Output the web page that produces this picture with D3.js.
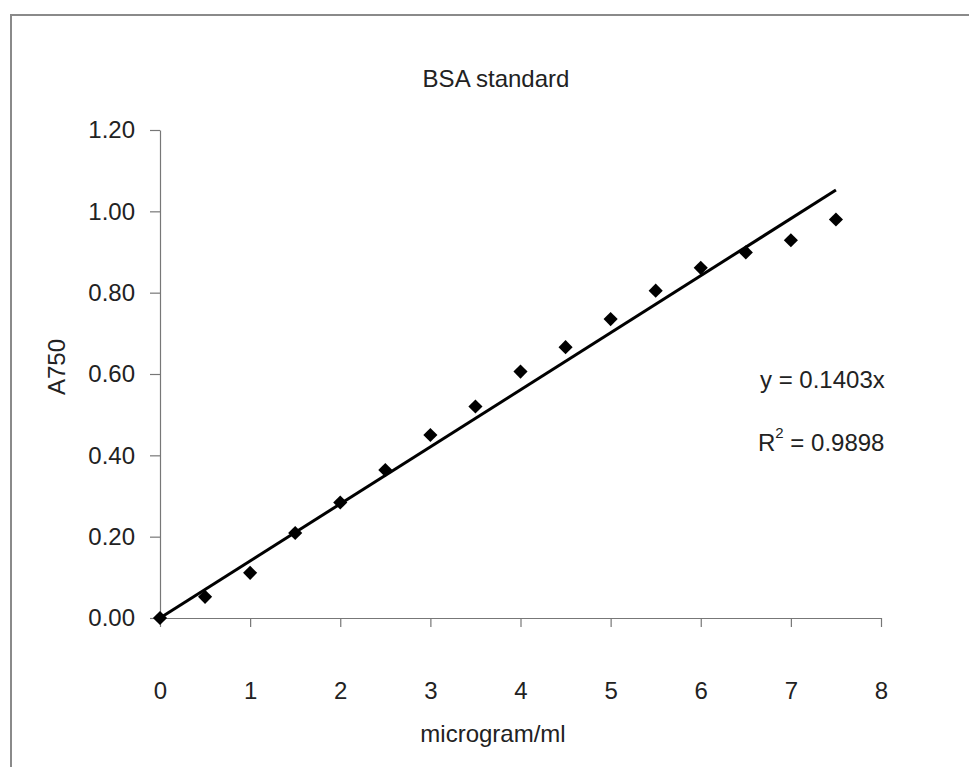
<!DOCTYPE html>
<html>
<head>
<meta charset="utf-8">
<script src="https://cdn.jsdelivr.net/npm/d3@7"></script>
<style>
  body { margin: 0; background: #fff; }
  svg text { font-family: "Liberation Sans", Arial, sans-serif; fill: #222; }
</style>
</head>
<body>
<svg></svg>
<script>
let concentrations = [0, 0.5, 1, 1.5, 2, 2.5, 3, 3.5, 4, 4.5, 5, 5.5, 6, 6.5, 7, 7.5]
let absorbances = [0, 0.052, 0.111, 0.209, 0.284, 0.364, 0.450, 0.520, 0.606, 0.666, 0.735, 0.805, 0.861, 0.899, 0.929, 0.980]
let xTicks = [0, 1, 2, 3, 4, 5, 6, 7, 8]
let yTicks = [0, 0.2, 0.4, 0.6, 0.8, 1.0, 1.2]
let trendSlope = 0.1403
let rSquared = 0.9898

let width = 969
let height = 767
let fontSize = 24

let svg = d3.select('svg')
    .attr('width', width)
    .attr('height', height)

// chart frame (only top and left edges are in the picture)
svg.append('path')
   .attr('d', 'M11,' + height + ' L11,15 L' + width + ',15')
   .attr('fill', 'none')
   .attr('stroke', '#8a8a8a')
   .attr('stroke-width', 2)

let xScale = d3.scaleLinear().domain([0, 8]).range([160, 881])
let yScale = d3.scaleLinear().domain([0, 1.2]).range([618, 130])

let xAxis = d3.axisBottom(xScale)
              .tickValues(xTicks)
              .tickFormat(d3.format('d'))
              .tickSizeInner(9)
              .tickSizeOuter(0)
              .tickPadding(55)
let yAxis = d3.axisLeft(yScale)
              .tickValues(yTicks)
              .tickFormat(d3.format('.2f'))
              .tickSizeInner(10)
              .tickSizeOuter(0)
              .tickPadding(15)

svg.append('g')
   .attr('transform', 'translate(0,' + yScale(0) + ')')
   .call(xAxis)
svg.append('g')
   .attr('transform', 'translate(' + xScale(0) + ',0)')
   .call(yAxis)

svg.selectAll('.domain, .tick line')
   .attr('stroke', '#777')
   .attr('stroke-width', 1.2)
svg.selectAll('.tick text')
   .attr('font-size', fontSize)
   .attr('fill', '#222')
   .style('font-family', '"Liberation Sans", Arial, sans-serif')

// trendline through origin
let lineEnds = [0, d3.max(concentrations)]
svg.append('path')
   .datum(lineEnds)
   .attr('d', d3.line().x(d => xScale(d)).y(d => yScale(trendSlope * d)))
   .attr('stroke', '#000')
   .attr('stroke-width', 3)
   .attr('fill', 'none')

// diamond markers
svg.selectAll('.dot')
   .data(concentrations)
   .enter()
   .append('path')
   .attr('class', 'dot')
   .attr('d', d3.symbol(d3.symbolSquare, 100))
   .attr('transform', (d, i) => 'translate(' + xScale(d) + ',' + yScale(absorbances[i]) + ') rotate(45)')
   .attr('fill', '#000')

// titles
svg.append('text')
   .attr('x', 496).attr('y', 87)
   .attr('text-anchor', 'middle')
   .attr('font-size', fontSize)
   .text('BSA standard')

svg.append('text')
   .attr('x', 493).attr('y', 742)
   .attr('text-anchor', 'middle')
   .attr('font-size', fontSize)
   .text('microgram/ml')

svg.append('text')
   .attr('transform', 'translate(65,367) rotate(-90)')
   .attr('text-anchor', 'middle')
   .attr('font-size', fontSize)
   .text('A750')

// trendline equation
svg.append('text')
   .attr('x', 760).attr('y', 388)
   .attr('font-size', fontSize)
   .text('y = ' + trendSlope + 'x')

let r2 = svg.append('text')
   .attr('x', 758).attr('y', 451)
   .attr('font-size', fontSize)
r2.append('tspan').text('R')
r2.append('tspan').attr('dy', -13).attr('font-size', 15).text('2')
r2.append('tspan').attr('dy', 13).text(' = ' + rSquared)
</script>
</body>
</html>
